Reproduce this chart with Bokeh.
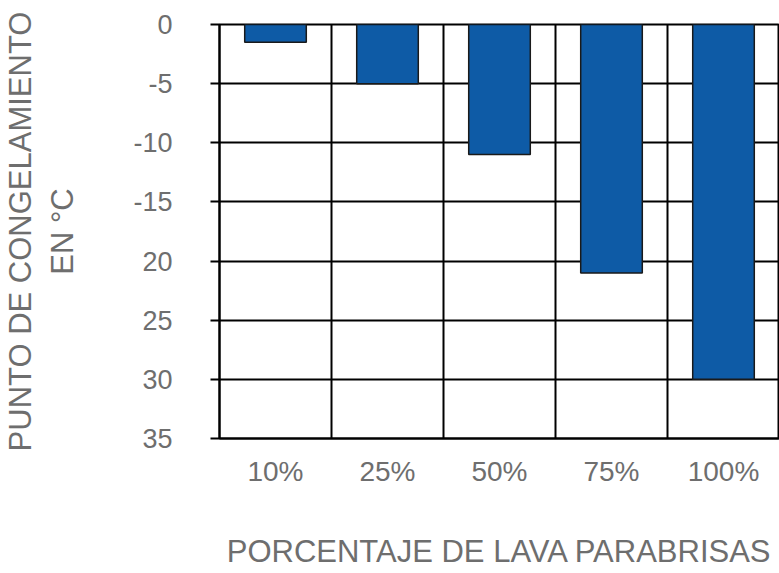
from bokeh.plotting import figure
from bokeh.models import FixedTicker, Range1d
from bokeh.embed import file_html
from bokeh.resources import INLINE

categories = ["10%", "25%", "50%", "75%", "100%"]
freeze_point = [-1.5, -5, -11, -21, -30]
y_ticks = [0, -5, -10, -15, -20, -25, -30, -35]
y_tick_labels = ["0", "-5", "-10", "-15", "20", "25", "30", "35"]

x_pos = [i + 0.5 for i in range(len(categories))]

p = figure(width=779, height=573, output_backend="svg", toolbar_location=None,
           x_range=Range1d(0, len(categories)), y_range=Range1d(-35, 0),
           min_border_left=218, min_border_right=0, min_border_top=24,
           min_border_bottom=135)

p.vbar(x=x_pos, top=freeze_point, bottom=0, width=0.55,
       fill_color="#0E5BA6", line_color="#1a1a1a", line_width=1.5)

TXT = "#6e6e6e"
FONT = "Liberation Sans"

p.outline_line_color = "black"
p.outline_line_width = 2
p.background_fill_color = "white"
p.border_fill_color = "white"

# y axis
p.yaxis.ticker = FixedTicker(ticks=y_ticks)
p.yaxis.major_label_overrides = {t: l for t, l in zip(y_ticks, y_tick_labels)}
p.yaxis.major_tick_out = 9
p.yaxis.major_tick_in = 0
p.yaxis.minor_tick_line_color = None
p.yaxis.major_tick_line_color = "black"
p.yaxis.major_tick_line_width = 2
p.yaxis.axis_line_color = "black"
p.yaxis.axis_line_width = 2
p.yaxis.major_label_standoff = 38
p.yaxis.major_label_text_font = FONT
p.yaxis.major_label_text_font_size = "27px"
p.yaxis.major_label_text_color = TXT
p.yaxis.axis_label = "PUNTO DE CONGELAMIENTO\nEN °C"
p.yaxis.axis_label_text_font = FONT
p.yaxis.axis_label_text_font_size = "31px"
p.yaxis.axis_label_text_font_style = "normal"
p.yaxis.axis_label_text_color = TXT
p.yaxis.axis_label_standoff = 50

# x axis
p.xaxis.ticker = FixedTicker(ticks=x_pos)
p.xaxis.major_label_overrides = {x: c for x, c in zip(x_pos, categories)}
p.xaxis.major_tick_line_color = None
p.xaxis.minor_tick_line_color = None
p.xaxis.axis_line_color = "black"
p.xaxis.axis_line_width = 2
p.xaxis.major_label_standoff = 11
p.xaxis.major_label_text_font = FONT
p.xaxis.major_label_text_font_size = "28px"
p.xaxis.major_label_text_color = TXT
p.xaxis.axis_label = "PORCENTAJE DE LAVA PARABRISAS"
p.xaxis.axis_label_text_font = FONT
p.xaxis.axis_label_text_font_size = "31px"
p.xaxis.axis_label_text_font_style = "normal"
p.xaxis.axis_label_text_color = TXT
p.xaxis.axis_label_standoff = 44

# grids
p.ygrid.ticker = FixedTicker(ticks=y_ticks)
p.ygrid.grid_line_color = "black"
p.ygrid.grid_line_width = 2
p.ygrid.grid_line_alpha = 1
p.xgrid.ticker = FixedTicker(ticks=list(range(1, len(categories))))
p.xgrid.grid_line_color = "black"
p.xgrid.grid_line_width = 2
p.xgrid.grid_line_alpha = 1

open("out.html", "w").write(file_html(p, INLINE))
